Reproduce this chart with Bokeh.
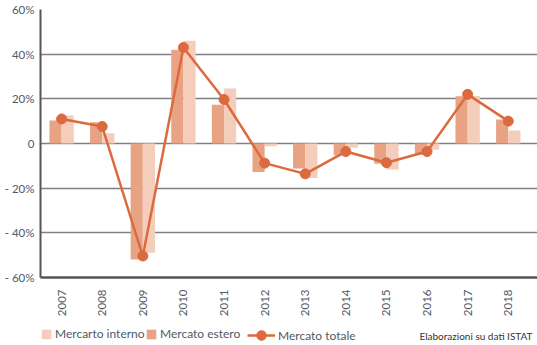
from bokeh.plotting import figure
from bokeh.layouts import column
from bokeh.models import Legend, LegendItem, Label, FixedTicker, Range1d, ColumnDataSource
from bokeh.embed import file_html
from bokeh.resources import INLINE

years = ["2007", "2008", "2009", "2010", "2011", "2012", "2013", "2014", "2015", "2016", "2017", "2018"]
mercato_estero = [10.3, 9.5, -51.9, 42.0, 17.4, -12.8, -11.2, -5.4, -9.1, -5.0, 21.2, 10.7]
mercato_interno = [12.5, 4.6, -48.9, 46.0, 24.6, -1.2, -15.5, -1.9, -11.6, -2.8, 21.3, 5.8]
mercato_totale = [11.0, 7.6, -50.4, 43.0, 19.7, -8.8, -13.6, -3.6, -8.6, -3.6, 22.0, 10.0]
y_ticks = [-60, -40, -20, 0, 20, 40, 60]
y_tick_labels = ["- 60%", "- 40%", "- 20%", "0", "20%", "40%", "60%"]

idx = list(range(len(years)))
src = ColumnDataSource(dict(
    x=idx,
    xe=[i - 0.15 for i in idx],
    xi=[i + 0.15 for i in idx],
    estero=mercato_estero,
    interno=mercato_interno,
    totale=mercato_totale,
))

C_DARK = "#E8A384"
C_LIGHT = "#F4CEBA"
C_LINE = "#DC6A3F"
FONT = "Lato"
TXT = "#4f5a66"

p = figure(width=537, height=320, output_backend="svg", toolbar_location=None,
           x_range=Range1d(-0.52, 11.72), y_range=Range1d(-60, 60),
           min_border_left=40, min_border_right=0, min_border_top=9, min_border_bottom=43)
p.outline_line_color = None

r_e = p.vbar(x="xe", top="estero", bottom=0, width=0.3, source=src,
             fill_color=C_DARK, line_color=None)
r_i = p.vbar(x="xi", top="interno", bottom=0, width=0.3, source=src,
             fill_color=C_LIGHT, line_color=None)
r_l = p.line(x="x", y="totale", source=src, line_color=C_LINE, line_width=2.5)
r_s = p.scatter(x="x", y="totale", source=src, size=10, fill_color=C_LINE, line_color=C_LINE)

for ax in (p.xaxis, p.yaxis):
    ax.major_tick_out = 0
    ax.major_tick_in = 0
    ax.minor_tick_out = 0
    ax.minor_tick_in = 0
    ax.major_tick_line_color = None
    ax.minor_tick_line_color = None
    ax.major_label_text_font = FONT
    ax.major_label_text_font_size = "11.5px"
    ax.major_label_text_color = TXT
    ax.axis_line_color = "#555555"

p.xaxis.ticker = FixedTicker(ticks=idx)
p.xaxis.major_label_overrides = {i: y for i, y in zip(idx, years)}
p.xaxis.major_label_orientation = 1.5708
p.xaxis.major_label_standoff = 12
p.xaxis.axis_line_width = 2.5

p.yaxis.ticker = FixedTicker(ticks=y_ticks)
p.yaxis.major_label_overrides = {t: l for t, l in zip(y_ticks, y_tick_labels)}
p.yaxis.major_label_standoff = 6
p.yaxis.axis_line_width = 2

p.xgrid.grid_line_color = None
p.ygrid.ticker = FixedTicker(ticks=y_ticks)
p.ygrid.grid_line_color = "#808080"
p.ygrid.grid_line_width = 1.5

# legend strip (dummy renderers lie outside the visible range; only their legend glyphs show)
q = figure(width=537, height=25, output_backend="svg", toolbar_location=None,
           x_axis_type=None, y_axis_type=None,
           x_range=Range1d(0, 1), y_range=Range1d(0, 1),
           min_border_left=0, min_border_right=0, min_border_top=0, min_border_bottom=0)
q.outline_line_color = None
q.xgrid.grid_line_color = None
q.ygrid.grid_line_color = None
far = ColumnDataSource(dict(x=[-100.0], y=[-100.0]))
l_i = q.vbar(x="x", top="y", bottom=-101, width=0.1, source=far, fill_color=C_LIGHT, line_color=None)
l_e = q.vbar(x="x", top="y", bottom=-101, width=0.1, source=far, fill_color=C_DARK, line_color=None)
l_l = q.line(x="x", y="y", source=far, line_color=C_LINE, line_width=2.5)
l_s = q.scatter(x="x", y="y", source=far, size=10, fill_color=C_LINE, line_color=C_LINE)

def mk_legend(items, x, y, gw, gh):
    lg = Legend(items=items, location=(x, y), orientation="horizontal",
                padding=0, margin=0, spacing=0, glyph_width=gw, glyph_height=gh,
                label_standoff=3, label_text_font=FONT, label_text_font_size="12px",
                label_text_color=TXT, background_fill_alpha=0, border_line_color=None,
                label_height=12)
    q.add_layout(lg)

mk_legend([LegendItem(label="Mercarto interno", renderers=[l_i])], 0, 4, 12, 12)
mk_legend([LegendItem(label="Mercato estero", renderers=[l_e])], 105, 4, 12, 12)
mk_legend([LegendItem(label="Mercato totale", renderers=[l_l, l_s])], 207, -2, 28, 24)

q.add_layout(Label(x=492, y=10, x_units="screen", y_units="screen",
                   text="Elaborazioni su dati ISTAT", text_align="right",
                   text_baseline="middle", text_font=FONT, text_font_size="10px",
                   text_color="#333333"))

open("out.html", "w").write(file_html(column(p, q, spacing=0), INLINE))
